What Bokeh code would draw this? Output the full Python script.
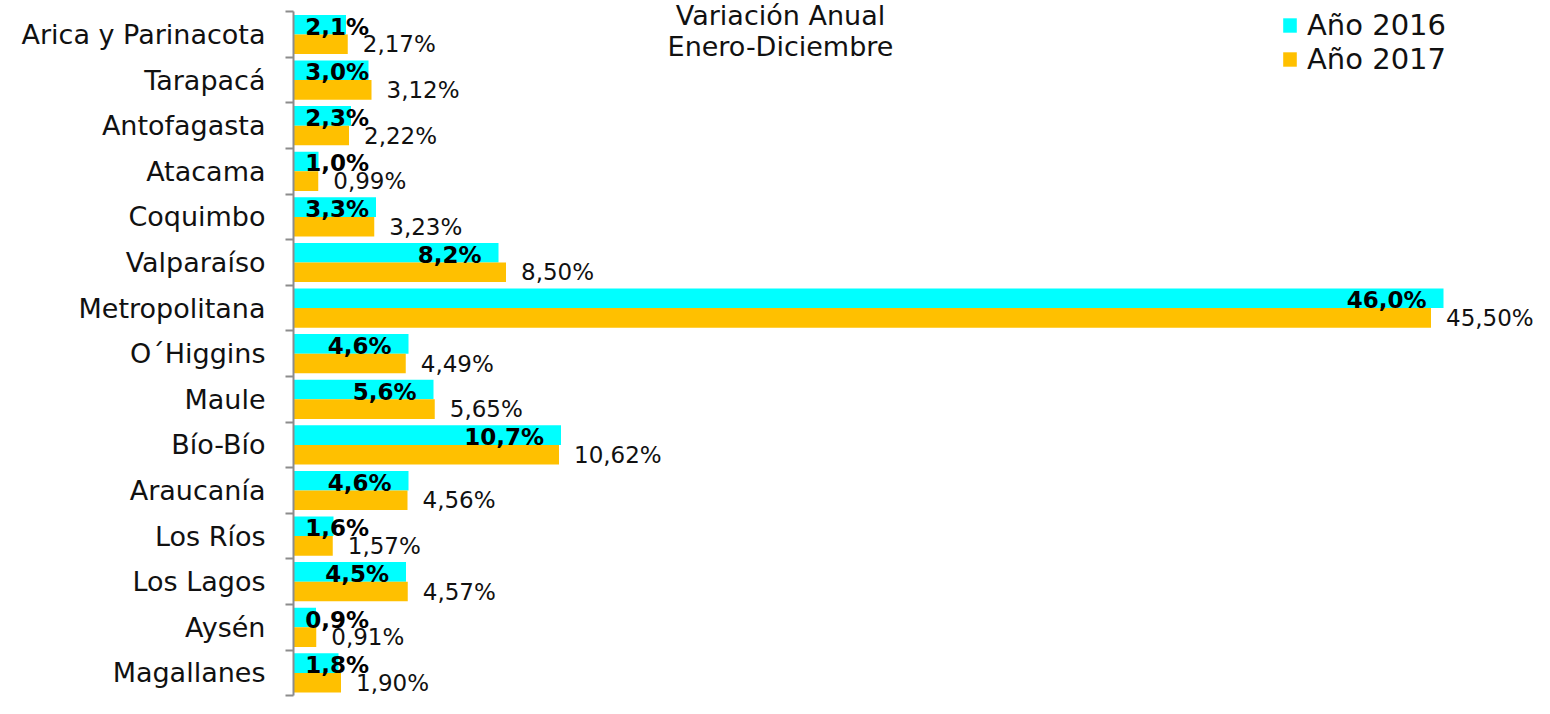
from bokeh.plotting import figure
from bokeh.models import Range1d, FixedTicker, ColumnDataSource, Legend, LegendItem, Label
from bokeh.embed import file_html
from bokeh.resources import INLINE
from bokeh.core.properties import value

regions = ["Arica y Parinacota", "Tarapacá", "Antofagasta", "Atacama", "Coquimbo",
           "Valparaíso", "Metropolitana", "O´Higgins", "Maule", "Bío-Bío",
           "Araucanía", "Los Ríos", "Los Lagos", "Aysén", "Magallanes"]
v2016 = [2.1, 3.0, 2.3, 1.0, 3.3, 8.2, 46.0, 4.6, 5.6, 10.7, 4.6, 1.6, 4.5, 0.9, 1.8]
v2017 = [2.17, 3.12, 2.22, 0.99, 3.23, 8.50, 45.50, 4.49, 5.65, 10.62, 4.56, 1.57, 4.57, 0.91, 1.90]
series_names = ["Año 2016", "Año 2017"]
title_lines = ["Variación Anual", "Enero-Diciembre"]

CYAN = "#00FFFF"
ORANGE = "#FFC000"
GRAY = "#8C8C8C"
FONT = "DejaVu Sans"

idx = list(range(len(regions)))
src16 = ColumnDataSource(dict(
    y=[i - 0.215 for i in idx], v=v2016,
    lx=[max(v, 3.7) for v in v2016],
    lab=[f"{v:.1f}".replace(".", ",") + "%" for v in v2016]))
src17 = ColumnDataSource(dict(
    y=[i + 0.215 for i in idx], v=v2017,
    lab=[f"{v:.2f}".replace(".", ",") + "%" for v in v2017]))

W, H = 1534, 698
LEFT = 293
p = figure(width=W, height=H, output_backend="svg", toolbar_location=None,
           x_range=Range1d(0, 49.64), y_range=Range1d(14.561, -0.7456),
           x_axis_location=None, min_border_left=LEFT, min_border_right=0,
           min_border_top=0, min_border_bottom=0)
p.outline_line_color = None
p.grid.visible = False
p.background_fill_color = "white"
p.border_fill_color = "white"

r16 = p.hbar(y="y", right="v", left=0, height=0.43, source=src16,
             fill_color=CYAN, line_color=None)
r17 = p.hbar(y="y", right="v", left=0, height=0.43, source=src17,
             fill_color=ORANGE, line_color=None)

p.text(x="lx", y="y", text="lab", source=src16, x_offset=-17, y_offset=2,
       text_align="right", text_baseline="middle", text_font=value(FONT),
       text_font_style="bold", text_font_size="23px", text_color="#000000")
p.text(x="v", y="y", text="lab", source=src17, x_offset=15, y_offset=0,
       text_align="left", text_baseline="middle", text_font=value(FONT),
       text_font_size="23px", text_color="#111111")

ax = p.yaxis[0]
ax.ticker = FixedTicker(ticks=idx, minor_ticks=[i - 0.5 for i in range(len(regions) + 1)])
ax.major_label_overrides = {i: r for i, r in enumerate(regions)}
ax.bounds = (-0.5, len(regions) - 0.5)
ax.major_tick_line_color = None
ax.major_tick_out = 0
ax.major_tick_in = 0
ax.minor_tick_out = 8
ax.minor_tick_in = 0
ax.minor_tick_line_color = GRAY
ax.minor_tick_line_width = 2
ax.axis_line_color = GRAY
ax.axis_line_width = 2
ax.major_label_standoff = 20
ax.major_label_text_font = FONT
ax.major_label_text_font_size = "27px"
ax.major_label_text_color = "#111111"

legend = Legend(items=[LegendItem(label=series_names[0], renderers=[r16]),
                       LegendItem(label=series_names[1], renderers=[r17])],
                location=(988, 622), glyph_width=17, glyph_height=18,
                label_standoff=9, spacing=0, padding=0, margin=0,
                border_line_color=None, background_fill_alpha=0,
                label_text_font=FONT, label_text_font_size="29px",
                label_text_color="#111111")
p.add_layout(legend)

p.add_layout(Label(x=487, y=683, x_units="screen", y_units="screen", text=title_lines[0],
                   text_align="center", text_baseline="middle", text_font=FONT,
                   text_font_size="27px", text_color="#111111"))
p.add_layout(Label(x=487, y=652, x_units="screen", y_units="screen", text=title_lines[1],
                   text_align="center", text_baseline="middle", text_font=FONT,
                   text_font_size="27px", text_color="#111111"))

open("out.html", "w").write(file_html(p, INLINE))
